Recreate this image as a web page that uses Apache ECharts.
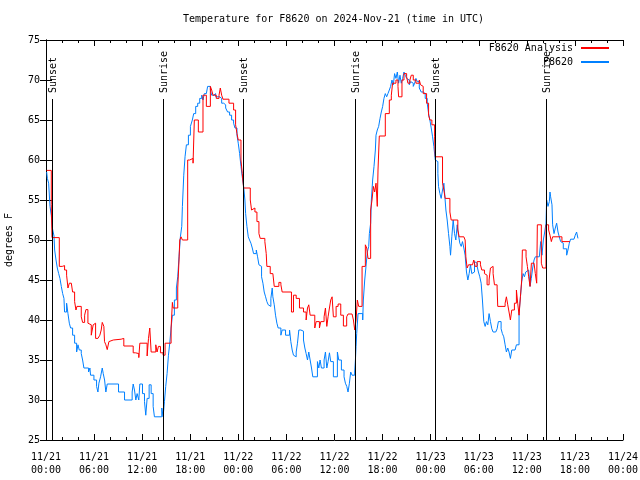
<!DOCTYPE html>
<html><head><meta charset="utf-8">
<script src="https://cdn.jsdelivr.net/npm/echarts@6/dist/echarts.min.js"></script>
<style>html,body{margin:0;padding:0;background:#fff}#c{width:640px;height:480px}</style>
</head><body><div id="c"></div>
<script>
const FONT = '"DejaVu Sans Mono", "Liberation Mono", monospace';
const titleText = 'Temperature for F8620 on 2024-Nov-21 (time in UTC)';
const xTickLabels = ['11/21\n00:00','11/21\n06:00','11/21\n12:00','11/21\n18:00','11/22\n00:00','11/22\n06:00','11/22\n12:00','11/22\n18:00','11/23\n00:00','11/23\n06:00','11/23\n12:00','11/23\n18:00','11/24\n00:00'];
const sunHours = [0.71, 14.61, 24.57, 38.52, 48.49, 62.43];
const sunLabels = ['Sunset','Sunrise','Sunset','Sunrise','Sunset','Sunrise'];
const sunLineTop = 67.6;

const redHours = [0.08,0.66,0.75,1.66,2.03,2.32,2.57,2.74,2.91,3.16,3.32,3.57,3.74,3.86,4.4,4.57,4.82,4.98,5.23,5.4,5.65,5.89,6.06,6.19,6.48,6.72,6.89,7.02,7.22,7.3,7.47,7.64,7.85,8.05,8.39,9.38,9.71,10.88,11.17,11.58,11.71,12.62,12.79,12.95,13.12,13.7,13.86,14.03,14.28,14.61,14.86,15.61,15.77,15.86,16.44,16.6,16.69,16.85,17.02,17.68,17.93,18.35,18.51,19.01,19.59,20.01,20.51,20.67,20.84,21.25,21.59,21.75,21.92,22.08,22.83,23.41,23.66,23.83,23.99,24.33,24.49,24.66,25.49,25.65,25.82,26.07,26.32,26.57,26.73,27.31,27.48,27.56,27.98,28.31,28.48,29.06,29.31,29.47,30.63,30.88,31.22,31.63,32.13,32.46,32.63,32.79,32.96,33.54,33.71,34.12,34.29,34.7,34.87,35.04,35.2,35.37,35.53,35.7,35.86,36.2,36.45,36.78,37.11,37.52,37.69,38.19,38.36,38.52,38.69,38.85,39.02,39.44,39.85,40.02,40.18,40.51,40.68,40.85,41.01,41.18,41.34,41.43,41.59,42.34,42.84,43.09,43.25,43.67,43.92,44.0,44.42,44.67,45.0,45.16,45.41,45.58,45.83,46.16,46.58,46.74,46.91,47.07,47.49,47.74,47.9,48.15,48.49,48.57,49.48,49.65,49.81,50.4,50.56,51.39,51.56,52.14,52.3,52.39,52.55,52.72,53.22,53.38,53.55,53.8,54.21,54.38,54.71,54.88,55.04,55.29,55.46,55.62,55.79,55.96,56.29,56.37,57.29,57.45,57.62,57.78,57.95,58.12,58.45,58.7,58.86,59.03,59.2,59.36,59.44,59.9,60.07,60.23,60.4,60.57,60.9,61.06,61.23,61.31,61.81,61.98,62.39,62.72,62.89,63.06,63.22,64.38,65.38];
const redTemps = [58.7,54.4,50.3,46.7,46.8,46.25,45.6,44.0,44.6,44.4,43.5,42.3,41.25,41.7,40.4,39.7,40.6,41.3,39.6,39.4,38.1,39.4,39.6,37.7,37.5,38.1,38.75,39.7,39.2,37.3,36.9,36.3,37.3,37.5,37.6,37.7,36.75,35.9,35.8,35.3,37.1,35.5,37.7,39.0,36.0,36.9,36.0,36.7,35.9,35.6,37.1,39.0,42.2,41.5,44.0,47.5,50.0,50.4,50.0,60.0,60.2,59.6,65.0,63.5,68.1,66.7,69.2,68.75,68.1,67.7,68.1,69.0,68.1,67.6,67.1,66.25,64.4,63.3,62.5,60.0,58.3,56.5,55.0,53.75,54.0,53.5,52.3,50.8,50.2,49.8,48.3,46.7,45.8,46.0,44.2,44.7,44.4,43.5,41.0,43.1,42.7,41.5,41.0,40.0,41.5,41.9,40.6,39.0,39.8,39.0,39.8,40.4,41.5,39.2,40.4,41.5,42.5,42.9,40.4,41.7,42.0,40.6,39.25,40.4,40.75,40.6,40.0,38.75,40.0,42.5,41.7,46.7,49.4,49.0,47.7,53.75,55.0,56.7,56.0,57.1,54.2,58.75,63.0,65.8,67.5,68.1,69.6,70.0,69.2,67.9,70.0,70.8,70.4,69.6,70.0,70.6,70.0,69.6,70.0,69.4,69.2,68.3,67.1,65.6,65.0,64.4,62.9,60.4,57.1,56.25,55.2,53.5,52.5,51.25,50.4,50.6,50.0,47.9,46.5,46.9,47.0,47.5,46.7,47.3,46.9,46.25,45.8,45.6,44.4,45.0,46.5,46.7,45.8,44.4,44.0,41.7,42.1,42.9,41.9,41.0,40.0,41.25,42.1,43.75,42.1,40.6,42.9,45.0,48.75,47.9,46.7,45.4,44.2,47.1,46.9,45.8,44.6,51.9,47.1,46.5,51.9,51.25,50.6,49.8,50.4,49.8,49.8];

const blueHours = [0.08,0.17,0.33,0.5,0.66,0.79,1.0,1.08,1.25,1.41,1.58,1.74,1.91,2.08,2.24,2.32,2.57,2.74,2.91,3.07,3.32,3.57,3.82,3.99,4.15,4.4,4.57,4.73,5.31,5.48,5.56,5.98,6.31,6.48,6.6,6.81,7.02,7.14,7.31,7.47,7.64,9.05,9.8,10.75,10.88,11.04,11.21,11.37,11.58,11.71,12.04,12.29,12.45,12.62,12.87,13.12,13.37,13.53,14.45,14.61,14.78,14.94,15.11,15.28,15.44,15.61,15.77,16.02,16.27,16.44,16.6,16.77,16.94,17.02,17.19,17.35,17.52,17.77,18.02,18.26,18.43,18.68,18.93,19.18,19.43,19.59,19.76,20.01,20.17,20.51,20.67,20.92,21.17,21.67,21.92,22.17,22.42,22.66,22.91,23.16,23.41,23.58,23.83,23.99,24.16,24.33,24.49,24.66,24.82,24.91,25.07,25.24,25.4,25.57,25.74,25.9,26.24,26.4,26.57,26.73,26.9,27.07,27.23,27.4,27.56,27.73,27.9,28.06,28.23,28.31,28.48,28.64,28.81,28.97,29.31,29.47,29.89,30.39,30.55,30.72,30.88,31.05,31.22,31.38,31.55,31.8,31.96,32.13,32.3,32.46,32.63,32.79,32.96,33.13,33.29,33.87,34.04,34.2,34.37,34.7,34.87,35.04,35.2,35.37,35.53,35.86,36.36,36.53,36.86,37.19,37.36,37.53,37.69,37.86,38.02,38.19,38.52,38.61,38.69,38.77,38.94,39.52,39.6,39.77,39.93,40.1,40.27,40.35,40.51,40.6,40.76,40.93,41.1,41.18,41.34,41.51,41.68,41.84,42.01,42.17,42.34,42.51,42.67,42.84,43.0,43.17,43.34,43.5,43.67,43.84,44.0,44.17,44.33,44.5,44.67,44.83,45.0,45.16,45.33,45.5,45.66,45.83,46.0,46.16,46.33,46.58,46.82,47.07,47.32,47.57,47.74,47.9,48.07,48.24,48.4,48.57,48.73,48.9,48.98,49.15,49.31,49.48,49.65,49.73,49.9,50.06,50.23,50.4,50.48,50.64,50.81,50.98,51.14,51.31,51.47,51.64,51.81,51.97,52.14,52.3,52.47,52.64,52.8,52.97,53.13,53.3,53.47,53.63,53.8,53.96,54.13,54.3,54.46,54.63,54.8,54.96,55.13,55.29,55.46,55.63,55.79,56.12,56.29,56.45,56.79,56.95,57.12,57.29,57.45,57.62,57.78,57.95,58.12,58.53,58.7,59.03,59.2,59.36,59.53,59.7,59.86,60.07,60.23,60.4,60.56,60.73,60.9,61.06,61.56,61.73,61.89,62.06,62.23,62.39,62.47,62.64,62.81,62.89,62.97,63.14,63.22,63.39,63.55,63.72,63.89,64.05,64.22,64.38,64.55,64.97,65.13,65.3,65.46,65.88,66.04,66.21,66.38];
const blueTemps = [58.5,57.7,57.1,54.2,53.1,51.5,50.5,48.75,47.5,46.5,45.8,45.2,44.2,43.3,42.7,41.0,42.1,40.8,39.6,39.0,38.1,37.1,36.0,36.9,36.25,35.8,35.0,34.0,33.5,34.0,33.1,32.5,31.7,31.0,32.1,32.9,34.0,33.3,32.5,31.0,32.0,31.0,30.0,31.0,32.0,31.25,30.0,30.8,30.0,32.0,30.8,29.8,28.1,30.2,31.9,30.8,29.2,27.9,29.0,27.9,29.8,31.7,33.3,35.6,37.1,39.0,40.6,42.5,44.0,45.4,47.9,50.4,51.7,54.2,58.1,60.4,61.9,63.1,64.2,65.0,65.8,66.7,67.1,67.7,68.1,67.5,68.3,68.1,69.2,68.75,68.1,68.3,67.9,67.7,67.1,66.9,66.5,66.0,65.6,65.0,64.6,64.0,63.1,62.1,60.8,59.2,57.9,56.7,55.0,53.3,51.7,50.4,50.0,49.6,49.0,48.3,48.75,47.9,46.9,46.7,45.4,44.6,43.5,42.9,42.3,41.9,41.7,42.7,44.0,42.9,41.9,40.6,39.6,39.0,38.1,38.75,38.1,38.75,37.3,36.25,35.6,35.4,36.0,37.1,38.75,39.0,38.6,37.5,36.5,35.8,35.0,36.0,35.0,34.0,32.9,34.8,34.0,35.0,34.0,35.0,36.0,34.0,34.8,35.9,34.8,32.9,36.0,35.0,33.75,32.9,32.1,31.7,31.0,32.1,33.5,33.1,33.5,35.0,36.7,38.3,40.8,40.0,42.5,45.0,46.7,48.5,49.2,50.8,52.1,55.0,57.5,59.2,61.25,63.1,63.75,64.2,65.2,66.0,66.7,67.7,68.3,67.9,68.3,68.75,69.2,70.0,69.4,70.8,70.2,71.0,69.6,70.6,69.6,70.2,71.0,70.6,70.2,70.0,69.4,69.8,69.6,69.2,69.6,70.2,69.8,69.0,68.5,68.3,67.7,67.1,65.8,65.0,64.0,62.9,61.7,60.0,59.8,58.3,56.7,55.8,55.2,56.25,57.1,56.0,53.75,52.5,50.8,49.2,48.1,50.4,52.5,50.8,50.0,51.9,50.6,49.6,49.2,49.8,49.0,48.1,46.0,45.0,45.8,46.9,45.8,46.0,47.3,47.1,46.7,46.0,45.4,44.6,42.5,39.8,39.2,39.8,39.4,40.8,39.8,38.9,38.5,38.3,38.9,39.8,38.9,38.3,37.9,36.9,36.0,36.5,36.0,35.2,36.25,36.0,36.9,40.8,42.9,44.8,45.8,45.4,46.0,46.25,46.0,44.2,45.2,46.5,47.5,47.9,48.1,49.8,48.1,50.0,51.0,52.1,55.0,54.2,54.8,56.0,55.4,54.4,51.9,50.8,51.5,52.1,51.0,50.4,49.8,49.6,48.9,48.1,48.75,49.6,50.1,50.1,50.6,51.0,50.2];

const zip = (a, b) => a.map((v, i) => [v, b[i]]);
const chart = echarts.init(document.getElementById('c'), null, {renderer: 'canvas'});
const txt = {fontFamily: FONT, fontSize: 10, color: '#000'};
const tickStyle = {color: '#000', width: 1};
const baseX = {
  type: 'value', min: 0, max: 72, interval: 6,
  axisLine: {show: true, lineStyle: tickStyle},
  axisTick: {show: true, inside: true, length: 6, lineStyle: tickStyle},
  minorTick: {show: true, splitNumber: 3, length: 3, lineStyle: tickStyle},
  splitLine: {show: false}, minorSplitLine: {show: false}
};
const baseY = {
  type: 'value', min: 25, max: 75, interval: 5,
  axisLine: {show: true, lineStyle: tickStyle},
  axisTick: {show: true, inside: true, length: 6, lineStyle: tickStyle},
  splitLine: {show: false}
};
const legendBase = {orient: 'vertical', right: 31, align: 'right', itemWidth: 28, itemHeight: 2,
  icon: 'rect', textStyle: Object.assign({}, txt, {padding: [0, 3, 0, 0]}), padding: 0, itemGap: 0};

chart.setOption({
  animation: false,
  backgroundColor: '#fff',
  title: {text: titleText, left: 183, top: 14, padding: 0,
    textStyle: {fontFamily: FONT, fontSize: 10, fontWeight: 'normal', color: '#000'}},
  legend: [
    Object.assign({}, legendBase, {top: 43, data: ['F8620 Analysis']}),
    Object.assign({}, legendBase, {top: 57, data: ['F8620']})
  ],
  grid: {left: 46, right: 17, top: 40, bottom: 40, show: false, containLabel: false, outerBoundsMode: 'none'},
  xAxis: [
    Object.assign({}, baseX, {position: 'bottom',
      axisLabel: Object.assign({}, txt, {margin: 11, lineHeight: 13,
        formatter: v => xTickLabels[Math.round(v / 6)]})}),
    Object.assign({}, baseX, {position: 'top', axisLabel: {show: false}})
  ],
  yAxis: [
    Object.assign({}, baseY, {position: 'left', name: 'degrees F', nameLocation: 'middle', nameGap: 32,
      nameRotate: 90, nameTextStyle: Object.assign({}, txt),
      axisLabel: Object.assign({}, txt, {margin: 6})}),
    Object.assign({}, baseY, {position: 'right', axisLabel: {show: false}})
  ],
  series: [
    {name: 'F8620 Analysis', type: 'line', step: 'end', symbol: 'none', z: 3,
      lineStyle: {color: '#ff0000', width: 1}, itemStyle: {color: '#ff0000'},
      data: zip(redHours, redTemps)},
    {name: 'F8620', type: 'line', step: 'end', symbol: 'none', z: 2,
      lineStyle: {color: '#0080ff', width: 1}, itemStyle: {color: '#0080ff'},
      data: zip(blueHours, blueTemps)},
    {type: 'custom', z: 5, clip: false, silent: true,
      data: sunHours.map(t => [t, sunLineTop]),
      encode: {x: 0, y: 1},
      renderItem: function (params, api) {
        const top = api.coord([api.value(0), api.value(1)]);
        const bot = api.coord([api.value(0), 25]);
        const x = Math.round(top[0]) + 0.5;
        return {type: 'group', children: [
          {type: 'line', shape: {x1: x, y1: Math.round(top[1]), x2: x, y2: bot[1]},
            style: {stroke: '#000', lineWidth: 1}},
          {type: 'text', x: x + 1, y: Math.round(top[1]) - 6, rotation: Math.PI / 2,
            style: {text: sunLabels[params.dataIndex], fill: '#000',
              font: '10px ' + FONT, align: 'left', verticalAlign: 'middle'}}
        ]};
      }}
  ]
});
</script></body></html>
